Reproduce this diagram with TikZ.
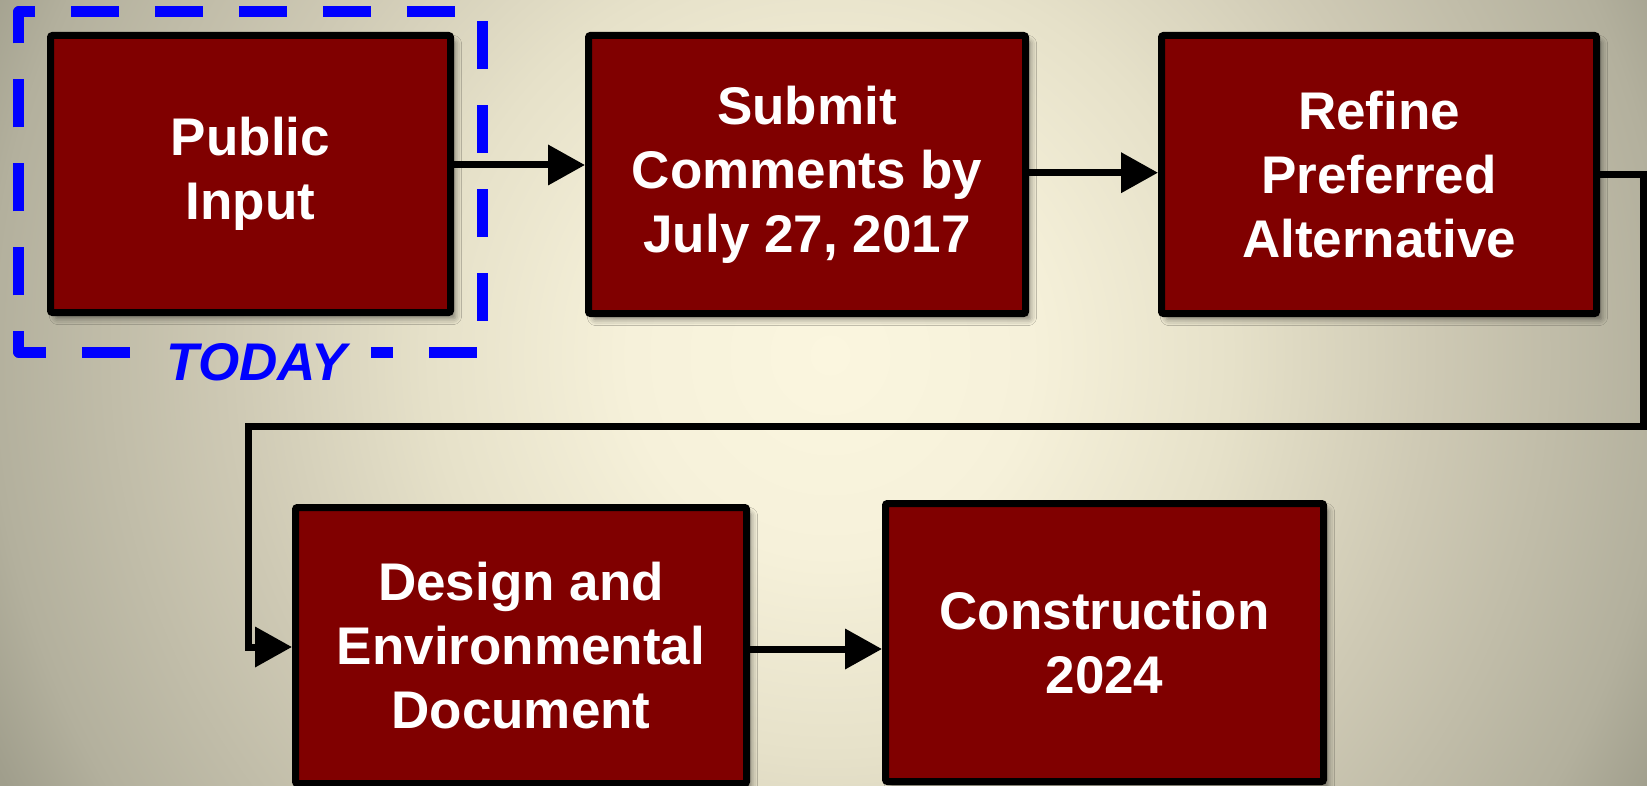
\documentclass[tikz,border=0pt]{standalone}
\usepackage{fontspec}
\setmainfont{Liberation Sans}
\usetikzlibrary{arrows.meta,shadows.blur}

% background: warm cream centre fading to khaki grey
% (\shade maps the central 25bp radius onto the half size of the shaded square)
\definecolor{bgA}{RGB}{251,246,223}
\definecolor{bgB}{RGB}{246,241,218}
\definecolor{bgC}{RGB}{230,225,201}
\definecolor{bgD}{RGB}{206,201,180}
\definecolor{bgE}{RGB}{179,176,157}
\definecolor{bgF}{RGB}{160,158,140}
\definecolor{bgG}{RGB}{154,152,134}
\pgfdeclareradialshading{bggrad}{\pgfpoint{0bp}{0bp}}{%
  color(0bp)=(bgA); color(5bp)=(bgB); color(10bp)=(bgC);
  color(15bp)=(bgD); color(21bp)=(bgE); color(23.25bp)=(bgF);
  color(25bp)=(bgG); color(50bp)=(bgG)}

\definecolor{boxred}{RGB}{128,0,0}
\definecolor{todayblue}{RGB}{0,0,255}

\tikzset{
  stage/.style={draw=black, line width=3.5pt, fill=boxred, text=white,
    align=center, rounded corners=1pt, inner sep=0pt,
    font=\bfseries\fontsize{26.5}{32}\selectfont,
    blur shadow={shadow xshift=2.5pt, shadow yshift=-3pt,
      shadow blur radius=3pt, shadow opacity=45}},
  flow/.style={line width=3.5pt, draw=black,
    -{Triangle[length=18.5pt,width=19.5pt]}},
  todayframe/.style={draw=todayblue, line width=5.5pt,
    dash pattern=on 24pt off 18pt, line join=round},
  todaylabel/.style={text=todayblue, inner sep=0pt,
    font=\bfseries\itshape\fontsize{26.5}{32}\selectfont},
}

\begin{document}
\begin{tikzpicture}[x=0.5pt,y=-0.5pt]
  \useasboundingbox (0,0) rectangle (1647,786);

  % background
  \begin{scope}
    \clip (0,0) rectangle (1647,786);
    \shade[shading=bggrad] (-170,-645) rectangle (1830,1355);
  \end{scope}

  % process stages
  \node[stage, minimum width=200pt, minimum height=138.5pt] (pub) at (250.5,174) {Public\\Input};
  \node[stage, minimum width=218.5pt, minimum height=139pt] (sub) at (807,174.5) {Submit\\Comments by\\July 27, 2017};
  \node[stage, minimum width=217.5pt, minimum height=139pt] (ref) at (1379,174.5) {Refine\\Preferred\\Alternative};
  \node[stage, minimum width=225.5pt, minimum height=138pt] (des) at (521,645.5) {Design and\\Environmental\\Document};
  \node[stage, minimum width=219pt, minimum height=139pt] (con) at (1104.5,642.5) {Construction\\2024};

  % "today" marker around the first stage
  \node[todaylabel, anchor=base] (today) at (257,380) {TODAY};
  \draw[todayframe] (130,352) -- (18.7,352) -- (18.7,12) -- (482,12) -- (482,352) -- (371,352);

  % connectors
  \coordinate (turnR) at (1643.5,426);
  \coordinate (turnL) at (248,426);
  \draw[flow] ([yshift=4.5pt]pub.east) -- ([yshift=4.75pt]sub.west);
  \draw[flow] ([yshift=0.9pt]sub.east) -- ([yshift=0.9pt]ref.west);
  \draw[flow] (ref.east) -| (turnR) -- (turnL) |- ([yshift=-0.75pt]des.west);
  \draw[flow] ([yshift=-1.75pt]des.east) -- ([yshift=-3.25pt]con.west);
\end{tikzpicture}
\end{document}
